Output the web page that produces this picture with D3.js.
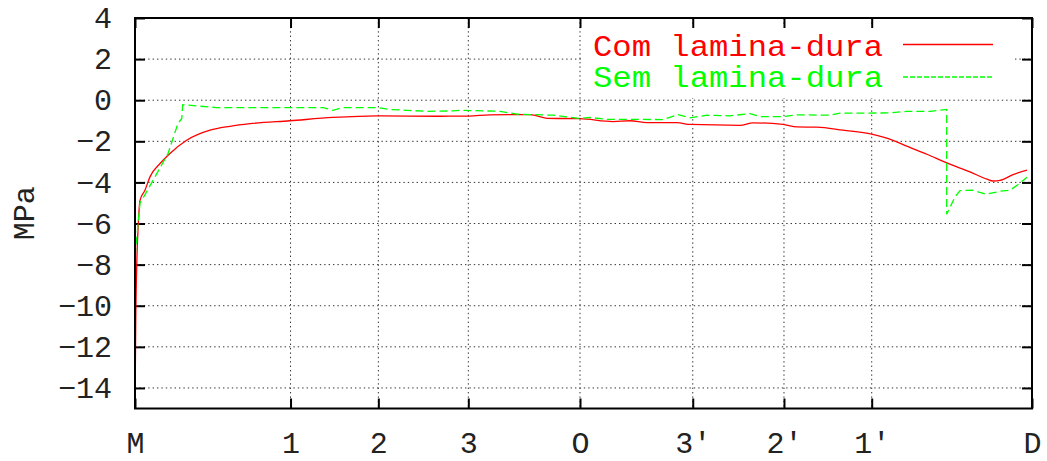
<!DOCTYPE html>
<html>
<head>
<meta charset="utf-8">
<script src="https://cdn.jsdelivr.net/npm/d3@7"></script>
<style>
  body { margin: 0; background: #fff; }
  svg text { font-family: "Liberation Mono", "DejaVu Sans Mono", monospace; }
  .grid line { stroke: #333; stroke-width: 1; stroke-dasharray: 1.4,3; }
  .axis path { display: none; }
  .axis line { stroke: #000; stroke-width: 2; }
  .axis text { font-size: 30px; fill: #222; }
</style>
</head>
<body>
<div id="chart"></div>
<script>
// position along the path (0 = M, 100 = D) and labels of the section points
const xTickPos = [0, 17.34, 27.13, 37.16, 49.61, 62.18, 72.35, 82.13, 100];
const xTickLabels = ["M", "1", "2", "3", "O", "3\u2032", "2\u2032", "1\u2032", "D"];
const yTicks = [4, 2, 0, -2, -4, -6, -8, -10, -12, -14];

// Com lamina-dura (MPa)
const comX = [0, 0.08, 0.22, 0.37, 0.56, 1.11, 1.67, 2.79, 3.9, 5.76, 8.36, 10.59, 12.82,
  17.28, 22.07, 26.98, 33.99, 37.24, 39.58, 42.59, 44.04, 45.93, 49.61, 53.29, 55.18,
  57.08, 60.42, 61.87, 67.45, 68.9, 72.24, 73.8, 76.03, 78.93, 82.13, 84.5, 85.62,
  88.29, 90.52, 93.09, 94.98, 95.65, 96.43, 97.88, 99.44];
const comY = [-15, -10.9, -7.6, -6.0, -4.87, -4.38, -3.73, -3.08, -2.59, -1.95, -1.46, -1.27, -1.14,
  -1.0, -0.84, -0.76, -0.78, -0.77, -0.71, -0.70, -0.70, -0.88, -0.90, -1.04, -1.0,
  -1.09, -1.09, -1.18, -1.22, -1.1, -1.18, -1.3, -1.31, -1.46, -1.65, -1.95, -2.16,
  -2.63, -3.05, -3.49, -3.84, -3.93, -3.9, -3.62, -3.4];

// Sem lamina-dura (MPa)
const semX = [0, 0.56, 0.78, 2.01, 3.68, 4.79, 5.21, 5.32, 9.11, 20.96, 22.07, 23.19, 26.98,
  28.43, 32.55, 35.45, 36.23, 40.69, 42.59, 46.6, 49.61, 50.72, 52.62, 58.86, 60.54,
  61.87, 63.77, 66.33, 68.56, 69.68, 72.24, 73.8, 77.48, 78.6, 84.17, 86.06, 88.63,
  90.49, 90.49, 91.42, 91.97, 93.42, 94.87, 96.43, 97.55, 98.33, 99.44];
const semY = [-7.6, -5.0, -4.85, -3.9, -2.6, -1.13, -0.9, -0.22, -0.36, -0.36, -0.49, -0.36, -0.36,
  -0.45, -0.54, -0.52, -0.49, -0.54, -0.68, -0.73, -0.89, -0.84, -0.93, -0.94, -0.70,
  -0.86, -0.73, -0.76, -0.65, -0.80, -0.80, -0.71, -0.73, -0.63, -0.62, -0.54, -0.54,
  -0.45, -5.55, -4.7, -4.4, -4.38, -4.58, -4.43, -4.38, -4.14, -3.75];

const seriesNames = ["Com lamina-dura", "Sem lamina-dura"];
const seriesColors = ["#ff0000", "#00ff00"];

const W = 1047, H = 461;
const margin = {top: 18, right: 15, bottom: 52.5, left: 135};
const width = W - margin.left - margin.right;
const height = H - margin.top - margin.bottom;

const svg = d3.select("#chart").append("svg")
    .attr("width", W)
    .attr("height", H);
const g = svg.append("g")
    .attr("transform", "translate(" + margin.left + "," + margin.top + ")");

const x = d3.scaleLinear().domain([0, 100]).range([0, width]);
const y = d3.scaleLinear().domain([-15, 4]).range([height, 0]);

// dotted grid
const grid = g.append("g").attr("class", "grid");
grid.selectAll(".gx").data(xTickPos.slice(1, -1)).enter().append("line")
    .attr("x1", d => x(d)).attr("x2", d => x(d))
    .attr("y1", 0).attr("y2", height);
grid.selectAll(".gy").data(yTicks.slice(1)).enter().append("line")
    .attr("x1", 0).attr("x2", width)
    .attr("y1", d => y(d)).attr("y2", d => y(d));

// key box blanks the grid behind it
g.append("rect")
    .attr("x", 448).attr("y", 8)
    .attr("width", 430).attr("height", 72)
    .attr("fill", "#fff");

// ticks on all four sides, pointing inward
g.append("g").attr("class", "axis")
    .attr("transform", "translate(0," + height + ")")
    .call(d3.axisBottom(x).tickValues(xTickPos).tickSize(-10).tickPadding(23)
        .tickFormat((d, i) => xTickLabels[i]));
g.append("g").attr("class", "axis")
    .call(d3.axisTop(x).tickValues(xTickPos).tickSize(-10).tickFormat(""));
g.append("g").attr("class", "axis")
    .call(d3.axisLeft(y).tickValues(yTicks).tickSize(-10).tickPadding(23));
g.append("g").attr("class", "axis")
    .attr("transform", "translate(" + width + ",0)")
    .call(d3.axisRight(y).tickValues(yTicks).tickSize(-10).tickFormat(""));

// the curves
const smooth = d3.line().x(d => x(d[0])).y(d => y(d[1])).curve(d3.curveMonotoneX);
const line = d3.line().x(d => x(d[0])).y(d => y(d[1]));
const comData = d3.zip(comX, comY);
const semData = d3.zip(semX, semY);

g.append("path")
    .datum(comData)
    .attr("d", smooth)
    .attr("fill", "none")
    .attr("stroke", seriesColors[0])
    .attr("stroke-width", 1.3);
g.append("path")
    .datum(semData)
    .attr("d", line)
    .attr("fill", "none")
    .attr("stroke", seriesColors[1])
    .attr("stroke-width", 1.3)
    .attr("stroke-dasharray", "8,4");

// frame
g.append("rect")
    .attr("width", width).attr("height", height)
    .attr("fill", "none")
    .attr("stroke", "#000")
    .attr("stroke-width", 2);

// key
const key = g.append("g");
seriesNames.forEach((name, i) => {
    key.append("text")
        .attr("x", 748).attr("y", 38 + i * 31)
        .attr("text-anchor", "end")
        .attr("font-size", 29)
        .attr("textLength", 290)
        .attr("lengthAdjust", "spacingAndGlyphs")
        .attr("fill", seriesColors[i])
        .text(name);
    key.append("line")
        .attr("x1", 768).attr("x2", 858)
        .attr("y1", 26.5 + i * 32.5).attr("y2", 26.5 + i * 32.5)
        .attr("stroke", seriesColors[i])
        .attr("stroke-width", 1.3)
        .attr("stroke-dasharray", i === 1 ? "5,2" : null);
});

// y label
svg.append("text")
    .attr("transform", "translate(34," + (margin.top + y(-5.5)) + ") rotate(-90)")
    .attr("text-anchor", "middle")
    .attr("font-size", 30)
    .attr("fill", "#222")
    .text("MPa");
</script>
</body>
</html>
